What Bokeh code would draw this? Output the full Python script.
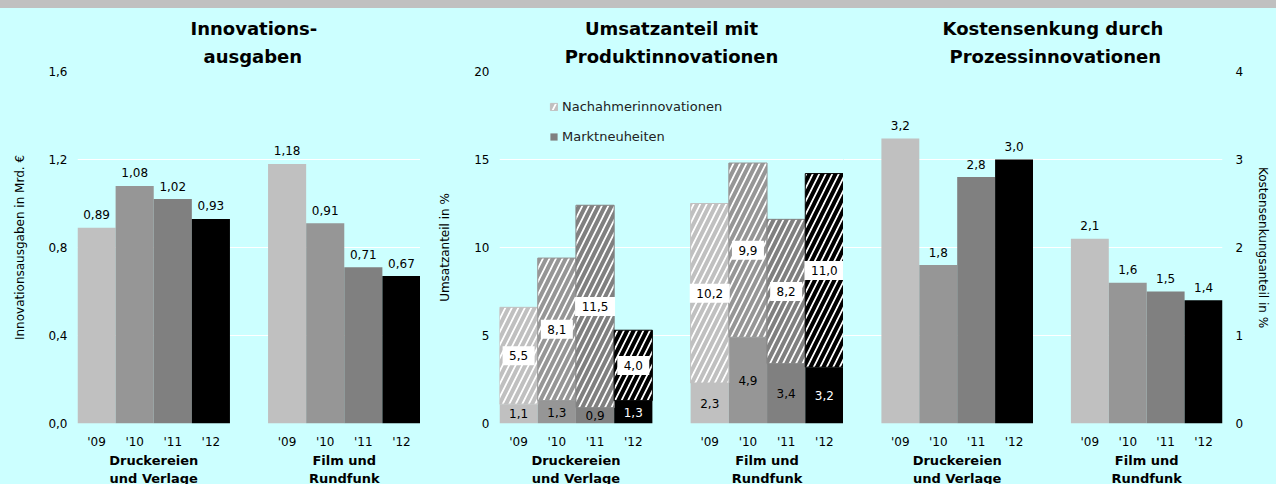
import re
from bokeh.plotting import figure
from bokeh.models import (ColumnDataSource, LabelSet, FixedTicker, LinearAxis, Title, Div,
                          CustomJSTickFormatter, Range1d, Legend, LegendItem)
from bokeh.core.properties import value
from bokeh.layouts import row, column
from bokeh.embed import file_html
from bokeh.resources import INLINE

# ---------------- data ----------------
years = ["'09", "'10", "'11", "'12"]
groups = [["Druckereien", "und Verlage"], ["Film und", "Rundfunk"]]
year_colors = ["#C0C0C0", "#969696", "#808080", "#000000"]

ausgaben_druck = [0.89, 1.08, 1.02, 0.93]
ausgaben_film = [1.18, 0.91, 0.71, 0.67]

markt_druck = [1.1, 1.3, 0.9, 1.3]
markt_film = [2.3, 4.9, 3.4, 3.2]
nachahmer_druck = [5.5, 8.1, 11.5, 4.0]
nachahmer_film = [10.2, 9.9, 8.2, 11.0]

kosten_druck = [3.24, 1.8, 2.8, 3.0]
kosten_film = [2.1, 1.6, 1.5, 1.4]

titles = [["Innovations-", "ausgaben"],
          ["Umsatzanteil mit", "Produktinnovationen"],
          ["Kostensenkung durch", "Prozessinnovationen"]]
y_labels = ["Innovationsausgaben in Mrd. €", "Umsatzanteil in %", "Kostensenkungsanteil in %"]
legend_labels = ["Nachahmerinnovationen", "Marktneuheiten"]

ticks1 = [0, 0.4, 0.8, 1.2, 1.6]
ticks2 = [0, 5, 10, 15, 20]
ticks3 = [0, 1, 2, 3, 4]

# ---------------- style ----------------
BG = "#CCFFFF"
BAND = "#C0C0C0"
FONT = "DejaVu Sans"
TOP = 63
FRAME_H = 352
BOTTOM = 65
H = TOP + FRAME_H + BOTTOM   # lowest label line runs slightly past the window edge, as in the original


def fmt(v, d):
    return f"{v:.{d}f}".replace(".", ",")


def slot_centers(offset):
    xs = []
    for g in range(len(groups)):
        for i in range(len(years)):
            xs.append(offset + g * (len(years) + 1) + i + 0.5)
    return xs


def style_axis(ax, size="12px", bold=False):
    ax.axis_line_color = None
    ax.major_tick_line_color = None
    ax.minor_tick_line_color = None
    ax.major_tick_in = 0
    ax.major_tick_out = 0
    ax.minor_tick_in = 0
    ax.minor_tick_out = 0
    ax.major_label_text_font = FONT
    ax.major_label_text_font_size = size
    ax.major_label_text_font_style = "bold" if bold else "normal"
    ax.major_label_text_color = "#000000"
    ax.axis_label_text_font = FONT
    ax.axis_label_text_font_size = "12px"
    ax.axis_label_text_font_style = "normal"
    ax.axis_label_text_color = "#000000"


def make_fig(width, left, right, x_end, ticks, y_loc, ylabel, label_standoff, decimals,
             offset, title_lines, title_offsets):
    p = figure(width=width, height=H, x_range=Range1d(0, x_end),
               y_range=Range1d(ticks[0], ticks[-1]),
               output_backend="svg", toolbar_location=None, y_axis_location=y_loc,
               min_border_left=left, min_border_right=right,
               min_border_top=TOP, min_border_bottom=BOTTOM,
               background_fill_color=BG, border_fill_color=BG,
               outline_line_color=None)
    p.xgrid.grid_line_color = None
    p.ygrid.grid_line_color = "white"
    p.ygrid.grid_line_width = 1
    p.yaxis.ticker = FixedTicker(ticks=ticks)
    if decimals:
        p.yaxis.formatter = CustomJSTickFormatter(code="return tick.toFixed(1).replace('.', ',')")
    for ax in p.axis:
        style_axis(ax)
    p.yaxis.axis_label = ylabel
    p.yaxis.axis_label_standoff = label_standoff
    p.yaxis.major_label_standoff = 10 if y_loc == "left" else 13

    # year labels
    xs = slot_centers(offset)
    p.xaxis.ticker = FixedTicker(ticks=xs)
    p.xaxis.major_label_overrides = {x: years[i % len(years)] for i, x in enumerate(xs)}
    p.xaxis.major_label_standoff = 11

    # industry group labels (two-line labels on an extra axis)
    centers = [offset + g * (len(years) + 1) + len(years) / 2 for g in range(len(groups))]
    ax = LinearAxis(ticker=FixedTicker(ticks=centers),
                    major_label_overrides={c: "\n".join(groups[g]) for g, c in enumerate(centers)})
    style_axis(ax, "13px", True)
    ax.major_label_standoff = 1
    ax.major_label_text_line_height = 1.2
    p.add_layout(ax, "below")

    # two-line title (nearest line added first)
    for txt, st, off in zip(reversed(title_lines), [10, 0], reversed(title_offsets)):
        if off is None:
            t = Title(text=txt, align="center", standoff=st)
        else:
            t = Title(text=txt, align="left", offset=off, standoff=st)
        t.text_font = FONT
        t.text_font_size = "18px"
        t.text_font_style = "bold"
        t.text_color = "#000000"
        p.add_layout(t, "above")
    return p


# ---------------- panel 1 ----------------
p1 = make_fig(420, 77, 0, 9, ticks1, "left", y_labels[0], 18, True, 0, titles[0], [113, 126])
v1 = ausgaben_druck + ausgaben_film
src1 = ColumnDataSource(dict(x=slot_centers(0), top=v1, color=year_colors * 2,
                             label=[fmt(v, 2) for v in v1]))
p1.vbar(x="x", top="top", width=1.0, fill_color="color", line_color=None, source=src1)
p1.add_layout(LabelSet(x="x", y="top", text="label", y_offset=13, source=src1,
                       text_align="center", text_baseline="middle",
                       text_font=value(FONT), text_font_size="12px", text_color="#000000"))

# ---------------- panel 2 ----------------
p2 = make_fig(423, 79, 0, 9, ticks2, "left", y_labels[1], 19, False, 0, titles[1], [None, None])
markt = markt_druck + markt_film
nach = nachahmer_druck + nachahmer_film
lab_n = [fmt(v, 1) for v in nach]
src2 = ColumnDataSource(dict(
    x=slot_centers(0), markt=markt, total=[a + b for a, b in zip(markt, nach)],
    color=year_colors * 2,
    mid_m=[a / 2 for a in markt], mid_n=[a + b / 2 for a, b in zip(markt, nach)],
    lab_m=[fmt(v, 1) for v in markt], lab_n=lab_n,
    box_w=[8 + 8 * len(s) for s in lab_n],
    tcol=["#000000", "#000000", "#000000", "#FFFFFF"] * 2))
r_markt = p2.vbar(x="x", top="markt", width=1.0, fill_color="color", line_color=None, source=src2)
r_nach = p2.vbar(x="x", bottom="markt", top="total", width=1.0, fill_color="white",
                 line_color="color", line_width=1, hatch_pattern="/", hatch_color="color",
                 hatch_scale=13, hatch_weight=4, source=src2)
# white label boxes on the hatched segments
p2.rect(x="x", y="mid_n", width="box_w", height=19, width_units="screen", height_units="screen",
        fill_color="white", line_color=None, source=src2)
p2.text(x="x", y="mid_m", text="lab_m", source=src2, text_align="center", text_baseline="middle",
        text_font=value(FONT), text_font_size="12px", text_color="tcol")
p2.text(x="x", y="mid_n", text="lab_n", source=src2, text_align="center", text_baseline="middle",
        text_font=value(FONT), text_font_size="12px", text_color="#000000")
legend = Legend(items=[LegendItem(label=legend_labels[0], renderers=[r_nach], index=0),
                       LegendItem(label=legend_labels[1], renderers=[r_markt], index=2)],
                location=(50, 279), glyph_width=9, glyph_height=9, label_height=15,
                label_standoff=4, spacing=15, padding=0, margin=0,
                background_fill_alpha=0, border_line_color=None,
                label_text_font=FONT, label_text_font_size="13px", label_text_color="#222222")
p2.add_layout(legend)

# ---------------- panel 3 ----------------
p3 = make_fig(433, 0, 54, 10, ticks3, "right", y_labels[2], 10, False, 1, titles[2], [99, 106])
v3 = kosten_druck + kosten_film
src3 = ColumnDataSource(dict(x=slot_centers(1), top=v3, color=year_colors * 2,
                             label=[fmt(v, 1) for v in v3]))
p3.vbar(x="x", top="top", width=1.0, fill_color="color", line_color=None, source=src3)
p3.add_layout(LabelSet(x="x", y="top", text="label", y_offset=13, source=src3,
                       text_align="center", text_baseline="middle",
                       text_font=value(FONT), text_font_size="12px", text_color="#000000"))

band = Div(text="", width=1276, height=8, margin=0, styles={"background-color": BAND})
charts = row(p1, p2, p3, spacing=0, styles={"background-color": BG})
layout = column(band, charts, spacing=0, styles={"background-color": BG})

html = file_html(layout, INLINE, title="Innovationen")
html = re.sub(r"<body[^>]*>", '<body style="margin:0;background:%s;overflow:hidden">' % BG, html, count=1)
open("out.html", "w").write(html)
